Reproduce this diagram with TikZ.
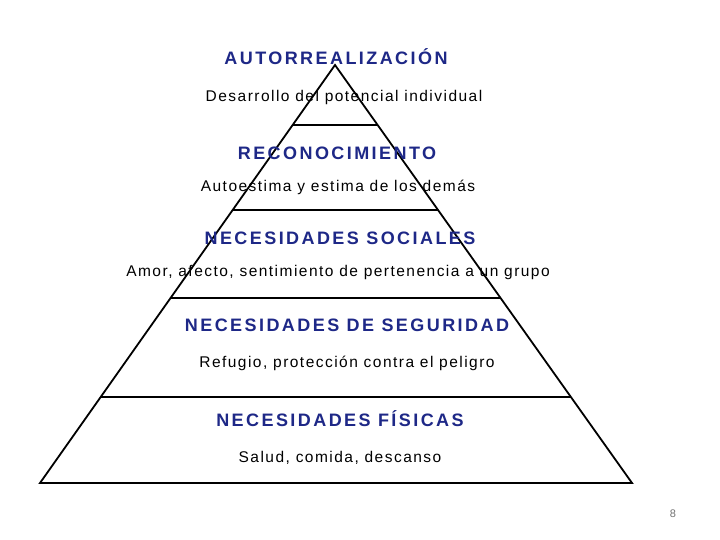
\documentclass[tikz,border=0pt]{standalone}
\usepackage{xcolor}
\usepackage{fontspec}
\usepackage{tikz}
\usetikzlibrary{calc}
\setmainfont{Liberation Sans}
\definecolor{azulnivel}{RGB}{30,40,135}

\begin{document}
\begin{tikzpicture}[x=1pt,y=-1pt,
  nivel/.style={text=azulnivel,font=\fontsize{18}{21}\selectfont\bfseries\addfontfeature{LetterSpace=13.5}},
  detalle/.style={text=black,font=\fontsize{15.5}{18}\selectfont\addfontfeature{LetterSpace=9.5}},
  borde/.style={line width=1.8pt,black}]
% ===== marco =====
\path[use as bounding box,fill=white] (0,0) rectangle (720,540);

% ===== vértices de la pirámide =====
\coordinate (cima) at (335,65);
\coordinate (izq) at (40,483);
\coordinate (der) at (632,483);

% ===== contorno =====
\draw[borde,line join=miter] (izq) -- (cima) -- (der) -- cycle;

% ===== divisiones horizontales =====
\draw[borde] ($(cima)!0.1435!(izq)$) -- ($(cima)!0.1435!(der)$);
\draw[borde] ($(cima)!0.3469!(izq)$) -- ($(cima)!0.3469!(der)$);
\draw[borde] ($(cima)!0.5574!(izq)$) -- ($(cima)!0.5574!(der)$);
\draw[borde] ($(cima)!0.7943!(izq)$) -- ($(cima)!0.7943!(der)$);

% ===== niveles =====
\node[nivel] (autorr) at (336,57) {AUTORREALIZACIÓN};
\node[detalle] (autorrtxt) at (344,97) {Desarrollo del potencial individual};
\node[nivel] (recon) at (337,153) {RECONOCIMIENTO};
\node[detalle] (recontxt) at (338,187) {Autoestima y estima de los demás};
\node[nivel] (social) at (340,238) {NECESIDADES SOCIALES};
\node[detalle] (socialtxt) at (338,272) {Amor, afecto, sentimiento de pertenencia a un grupo};
\node[nivel] (segur) at (347,325) {NECESIDADES DE SEGURIDAD};
\node[detalle] (segurtxt) at (347,363) {Refugio, protección contra el peligro};
\node[nivel] (fisica) at (340,419) {NECESIDADES FÍSICAS};
\node[detalle] (fisicatxt) at (340,458) {Salud, comida, descanso};

% ===== número de página =====
\node[text=black!55,font=\fontsize{11}{13}\selectfont] (pagina) at (673,514) {8};
\end{tikzpicture}
\end{document}
